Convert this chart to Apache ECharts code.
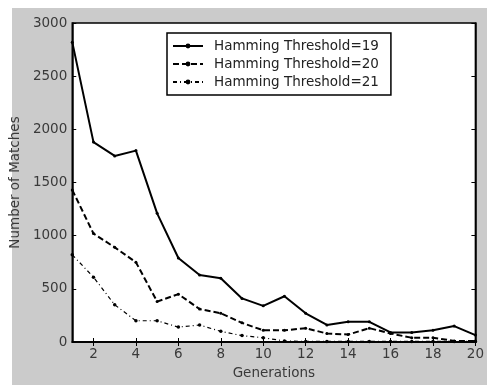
<!DOCTYPE html>
<html><head><meta charset="utf-8">
<script src="https://cdn.jsdelivr.net/npm/echarts@6/dist/echarts.min.js"></script>
<style>html,body{margin:0;padding:0;background:#fff}#c{width:487px;height:385px}</style>
</head><body><div id="c"></div>
<script>
const generations = [1,2,3,4,5,6,7,8,9,10,11,12,13,14,15,16,17,18,19,20];
const xTicks = [2,4,6,8,10,12,14,16,18,20];
const yTicks = [0,500,1000,1500,2000,2500,3000];
const seriesNames = ['Hamming Threshold=19','Hamming Threshold=20','Hamming Threshold=21'];
const t19 = [2820,1880,1750,1800,1210,790,630,600,410,340,430,270,160,190,190,90,90,110,150,65];
const t20 = [1430,1020,890,750,380,450,310,270,180,110,110,130,80,70,130,80,40,40,10,10];
const t21 = [820,610,350,200,200,140,160,100,60,40,10,5,5,5,5,5,5,5,5,5];

const chart = echarts.init(document.getElementById('c'));
const font = 'DejaVu Sans, sans-serif';
const fs = 13.5;
const mk = d => generations.map((g,i)=>[g,d[i]]);
const axisLine = {show:true,lineStyle:{color:'#000',width:1.5}};
chart.setOption({
  animation:false,
  graphic:[{type:'rect',shape:{x:12,y:8,width:475,height:377},style:{fill:'#cbcbcb'},z:-10}],
  grid:{left:72,top:23,right:2,bottom:33,show:true,backgroundColor:'#fff',borderColor:'#000',borderWidth:1.5},
  legend:{
    left:167,top:33,width:224,orient:'vertical',itemGap:4,itemWidth:30,itemHeight:6,
    backgroundColor:'#fff',borderColor:'#000',borderWidth:1.5,padding:[6,12,6,5],borderRadius:0,
    textStyle:{fontFamily:font,fontSize:fs,color:'#222',padding:[0,0,0,6]},
    data:seriesNames
  },
  xAxis:[{
    type:'value',min:1,max:20,
    name:'Generations',nameLocation:'middle',nameGap:24,
    nameTextStyle:{fontFamily:font,fontSize:fs,color:'#3a3a3a'},
    axisLine:axisLine,
    axisTick:{show:true,inside:true,length:4,lineStyle:{color:'#000'},customValues:xTicks},
    axisLabel:{fontFamily:font,fontSize:fs,color:'#3a3a3a',margin:5,customValues:xTicks},
    splitLine:{show:false}
  },{
    type:'value',min:1,max:20,position:'top',
    axisLine:axisLine,
    axisTick:{show:true,inside:true,length:4,lineStyle:{color:'#000'},customValues:xTicks},
    axisLabel:{show:false},splitLine:{show:false}
  }],
  yAxis:[{
    type:'value',min:0,max:3000,interval:500,
    name:'Number of Matches',nameLocation:'middle',nameGap:43,
    nameTextStyle:{fontFamily:font,fontSize:fs,color:'#3a3a3a'},
    axisLine:axisLine,
    axisTick:{show:true,inside:true,length:4,lineStyle:{color:'#000'}},
    axisLabel:{fontFamily:font,fontSize:fs,color:'#3a3a3a',margin:5,formatter:v=>String(v)},
    splitLine:{show:false}
  },{
    type:'value',min:0,max:3000,interval:500,position:'right',
    axisLine:axisLine,
    axisTick:{show:true,inside:true,length:4,lineStyle:{color:'#000'}},
    axisLabel:{show:false},splitLine:{show:false}
  }],
  series:[
    {name:seriesNames[0],type:'line',data:mk(t19),symbol:'circle',symbolSize:3,
     itemStyle:{color:'#000'},lineStyle:{color:'#000',width:2}},
    {name:seriesNames[1],type:'line',data:mk(t20),symbol:'circle',symbolSize:3,
     itemStyle:{color:'#000'},lineStyle:{color:'#000',width:2,type:[6,3]}},
    {name:seriesNames[2],type:'line',data:mk(t21),symbol:'circle',symbolSize:3.5,
     itemStyle:{color:'#000'},lineStyle:{color:'#000',width:1.2,type:[4,3,1,3]}}
  ]
});
</script></body></html>
